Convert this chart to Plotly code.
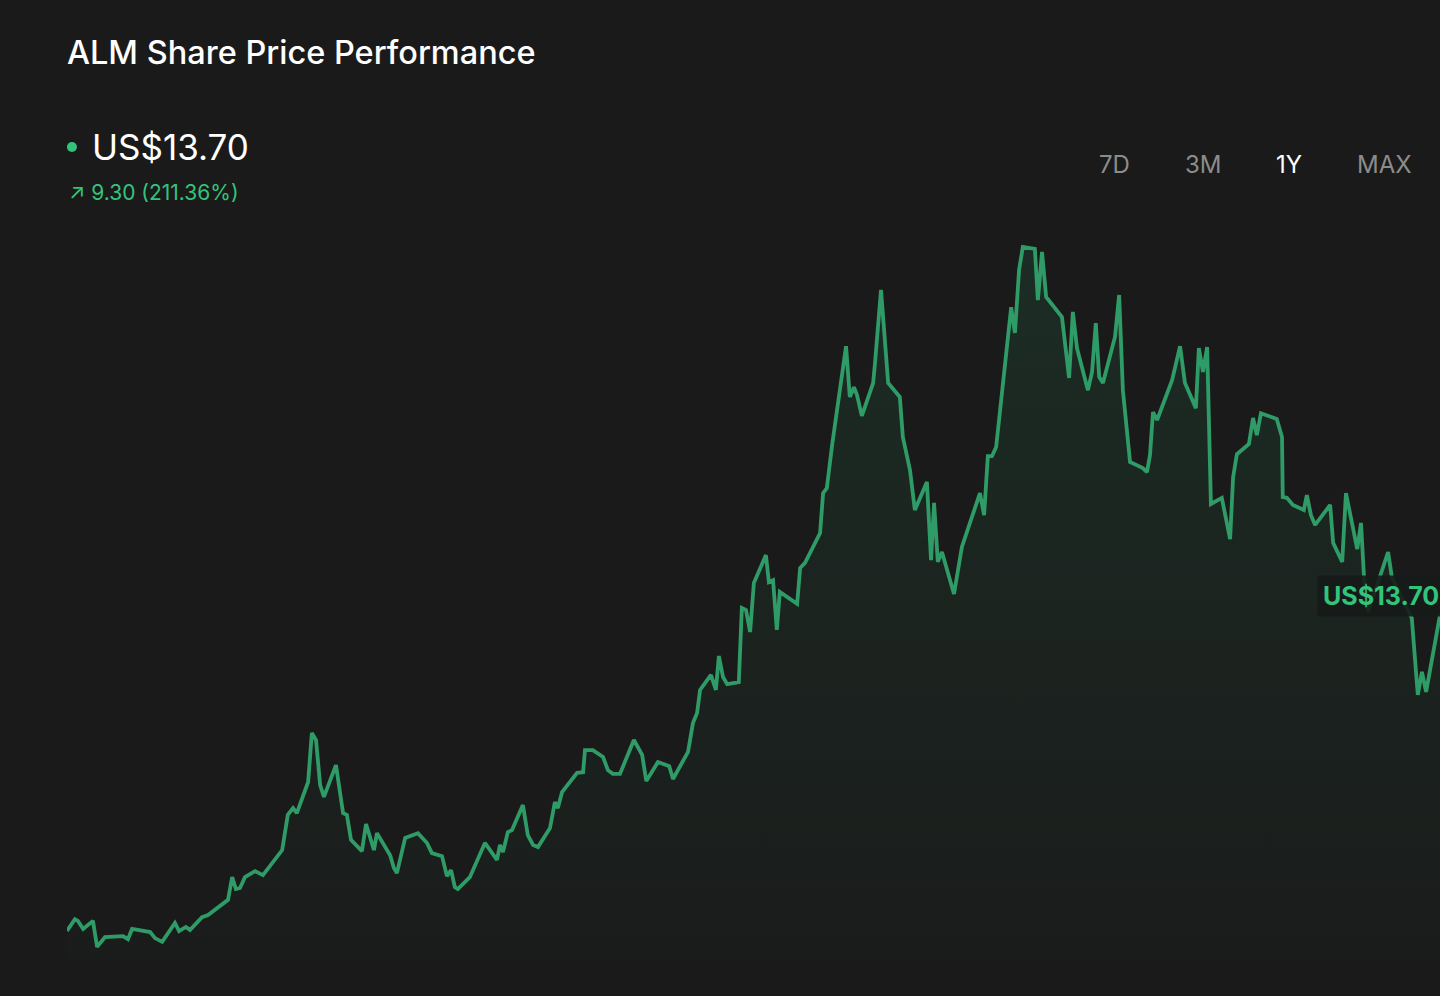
import pandas as pd
import plotly.graph_objects as go

# --- data (1Y view) ---
start_date = pd.Timestamp("2024-06-20")
days = [0, 2.1, 2.9, 4.3, 6.9, 8.0, 10.1, 14.9, 16.2, 17.3, 22.1, 23.4, 25.3, 28.7, 29.8,
        31.6, 32.7, 35.9, 37.5, 39.9, 42.8, 43.9, 44.9, 46.0, 47.3, 50.0, 52.1, 57.2, 58.7,
        60.1, 61.1, 64.1, 65.1, 66.2, 67.3, 68.3, 71.5, 73.4, 74.4, 75.5, 78.4, 79.5, 81.6,
        82.4, 85.9, 86.9, 87.7, 89.9, 93.3, 95.7, 97.0, 99.7, 101.0, 102.1, 103.1, 103.9,
        107.1, 111.1, 114.3, 115.1, 115.9, 117.2, 118.3, 121.2, 122.5, 123.9, 125.2, 128.4,
        129.7, 130.5, 131.6, 135.6, 137.2, 137.7, 139.8, 142.5, 143.8, 145.1, 147.0, 150.7,
        152.9, 154.0, 157.1, 160.1, 161.1, 165.1, 166.4, 167.5, 168.3, 171.2, 172.5, 173.3,
        174.4, 175.5, 178.6, 179.4, 180.5, 181.6, 182.6, 185.8, 186.6, 187.7, 188.7, 189.5,
        194.1, 194.9, 196.2, 200.2, 201.0, 202.0, 203.4, 207.1, 208.1, 209.2, 210.0, 211.3,
        214.3, 214.8, 216.4, 218.3, 221.4, 222.2, 224.1, 225.4, 228.6, 229.7, 230.5, 231.5,
        232.6, 235.8, 237.9, 242.7, 243.8, 244.8, 245.9, 247.0, 251.0, 252.0, 253.1, 254.1,
        257.3, 258.1, 259.2, 260.3, 264.5, 266.4, 267.4, 268.5, 271.4, 272.5, 273.5, 274.4,
        275.4, 278.6, 279.7, 280.7, 282.6, 286.0, 287.1, 287.9, 288.7, 289.8, 293.8, 295.9,
        297.2, 300.1, 300.9, 302.0, 303.1, 304.1, 307.0, 309.2, 310.0, 311.0, 314.2, 315.3,
        316.3, 317.4, 321.6, 323.0, 323.2, 324.3, 325.9, 328.8, 329.6, 330.7, 331.8, 335.8,
        336.6, 339.0, 340.0, 343.0, 344.0, 344.8, 345.9, 351.2, 352.2, 354.9, 357.5, 359.1,
        360.2, 361.3, 365.0]
prices = [4.37, 4.72, 4.67, 4.43, 4.67, 3.90, 4.19, 4.22, 4.13, 4.43, 4.34, 4.16, 4.05, 4.61,
          4.37, 4.49, 4.40, 4.78, 4.84, 5.05, 5.29, 5.96, 5.61, 5.64, 5.96, 6.14, 6.02, 6.76,
          7.80, 8.00, 7.85, 8.77, 10.22, 10.01, 8.68, 8.33, 9.27, 7.85, 7.80, 7.06, 6.73, 7.53,
          6.76, 7.26, 6.61, 6.23, 6.08, 7.12, 7.26, 6.97, 6.67, 6.58, 5.99, 6.17, 5.67, 5.61,
          5.96, 6.97, 6.47, 6.91, 6.70, 7.29, 7.35, 8.09, 7.20, 6.91, 6.85, 7.41, 8.18, 8.00,
          8.47, 9.04, 9.06, 9.71, 9.71, 9.51, 9.12, 9.01, 9.01, 10.01, 9.57, 8.80, 9.36, 9.24,
          8.86, 9.66, 10.51, 10.81, 11.49, 11.93, 11.49, 12.49, 11.87, 11.66, 11.72, 13.91,
          13.85, 13.20, 14.65, 15.47, 14.67, 14.73, 13.26, 14.38, 14.03, 15.09, 15.24, 16.12,
          17.30, 17.45, 18.72, 21.64, 20.14, 20.43, 20.20, 19.58, 20.55, 21.14, 23.30, 20.55,
          20.14, 18.96, 17.98, 16.80, 17.63, 15.32, 17.01, 15.27, 15.56, 14.32, 15.71, 17.30,
          16.65, 18.39, 18.39, 18.66, 22.79, 22.03, 23.89, 24.57, 24.51, 23.00, 24.42, 23.09,
          22.50, 20.70, 22.65, 21.58, 20.34, 20.88, 22.32, 20.73, 20.55, 21.91, 23.15, 20.34,
          18.22, 18.04, 17.92, 18.42, 19.69, 19.46, 20.64, 21.64, 20.55, 19.81, 21.58, 20.88,
          21.61, 16.98, 17.16, 15.94, 17.77, 18.45, 18.75, 19.52, 19.01, 19.66, 19.49, 18.96,
          17.18, 17.16, 16.95, 16.80, 17.24, 16.65, 16.36, 16.95, 15.83, 15.27, 17.30, 15.65,
          16.42, 14.82, 13.79, 15.56, 14.82, 14.20, 13.61, 11.34, 12.02, 11.43, 13.70]

last_price = "US$13.70"
change_text = "↗ 9.30 (211.36%)"
ranges = ["7D", "3M", "1Y", "MAX"]
active_range = "1Y"

dates = start_date + pd.to_timedelta(days, unit="D")

BG = "#1a1a1a"
GREEN = "#2f9c68"
TEXT_GREEN = "#33c47c"
FONT = "Inter, Noto Sans, sans-serif"

fig = go.Figure()
fig.add_trace(go.Scatter(
    x=dates, y=prices, mode="lines",
    line=dict(color=GREEN, width=3.8),
    fill="tozeroy",
    fillgradient=dict(
        type="vertical",
        start=3.5, stop=max(prices),
        colorscale=[[0, "rgba(40,140,90,0.02)"], [1, "rgba(40,160,100,0.14)"]],
    ),
    hovertemplate="%{x|%d %b %Y}<br>US$%{y:.2f}<extra></extra>",
))

# header texts
annotations = [
    dict(x=0.0168, y=1.1137, text=last_price, xanchor="left", yanchor="middle",
         font=dict(size=35, color="#ffffff", family=FONT)),
    dict(x=0.0, y=1.052, text=change_text, xanchor="left", yanchor="middle",
         font=dict(size=21, color=TEXT_GREEN, family=FONT)),
]
for label, xpos in zip(ranges, [0.7626, 0.8274, 0.8900, 0.9599]):
    annotations.append(dict(
        x=xpos, y=1.0904, text=label, xanchor="center", yanchor="middle",
        font=dict(size=24, family=FONT,
                  color="#ffffff" if label == active_range else "#8c8c8c"),
    ))
# last price tag on the right (slightly cut off by the edge, as in the source)
annotations.append(dict(
    x=1.0, y=0.4986, text="<b>" + last_price + "</b>", xanchor="right", yanchor="middle",
    xshift=5,
    font=dict(size=25, color=TEXT_GREEN, family=FONT),
    bgcolor="rgba(22,27,24,0.9)", borderpad=5,
))
for a in annotations:
    a.update(xref="paper", yref="paper", showarrow=False)

fig.update_layout(
    width=1440, height=996,
    paper_bgcolor=BG, plot_bgcolor=BG,
    margin=dict(l=67, r=0, t=230, b=36),
    showlegend=False,
    title=dict(text="ALM Share Price Performance", x=0.0465, xref="container", xanchor="left",
               y=0.9468, yref="container", yanchor="middle",
               font=dict(size=32.5, color="#ffffff", family=FONT, weight=500)),
    xaxis=dict(visible=False, range=[dates[0], dates[-1]], fixedrange=True),
    yaxis=dict(visible=False, range=[3.514, 25.07], fixedrange=True),
    annotations=annotations,
    shapes=[dict(type="circle", xref="paper", yref="paper", xsizemode="pixel", ysizemode="pixel",
                 xanchor=0.0036, yanchor=1.1137, x0=-5, x1=5, y0=-5, y1=5,
                 fillcolor=TEXT_GREEN, line=dict(width=0))],
)

fig.write_html("out.html", config={"displayModeBar": False},
               post_script="document.body.style.margin='0';")
